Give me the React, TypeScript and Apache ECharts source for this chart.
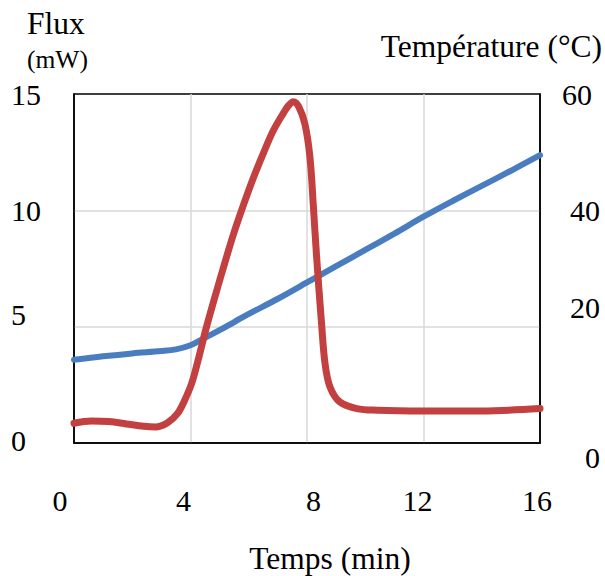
import React, { useEffect, useRef } from "react";
import * as echarts from "echarts";

// ---- data ----
const fluxTime = [0, 0.6, 1.2, 1.8, 2.4, 2.8, 3.2, 3.55, 3.8, 4.05, 4.3, 4.53, 4.9, 5.18, 5.47, 5.81, 6.16, 6.5, 6.84, 7.19, 7.35, 7.53, 7.72, 7.93, 8.1, 8.22, 8.33, 8.5, 8.62, 8.79, 9.13, 9.71, 10.4, 12, 14, 16];
const fluxValues = [0.85, 0.95, 0.92, 0.82, 0.72, 0.69, 0.86, 1.26, 1.84, 2.6, 3.75, 4.9, 6.55, 7.75, 8.95, 10.2, 11.4, 12.45, 13.42, 14.18, 14.48, 14.67, 14.45, 13.7, 12.3, 10.15, 8.0, 5.13, 3.41, 2.41, 1.76, 1.48, 1.41, 1.38, 1.38, 1.48];

const tempTime = [0, 1, 2, 3, 3.5, 4, 4.5, 5, 5.5, 6, 7, 8, 9, 10, 11, 12, 13, 14, 15, 16];
const tempValues = [14.3, 14.9, 15.4, 15.8, 16.1, 16.8, 18.1, 19.4, 20.8, 22.2, 24.8, 27.6, 30.4, 33.2, 36.0, 38.9, 41.6, 44.2, 46.8, 49.5];

const xTicks = [0, 4, 8, 12, 16];
const fluxTicks = [0, 5, 10, 15];
const tempTicks = [0, 20, 40, 60];

const xTitle = "Temps (min)";
const fluxTitle = "Flux";
const fluxUnit = "(mW)";
const tempTitle = "Température (°C)";

// ---- styles ----
const FONT = "Liberation Serif";
const FS = 30;
const TFS = 31.5;
const RED = "#C2403F";
const BLUE = "#4A7DC0";
const GRID = "#D9D9D9";

const tok = (pad: number[]) => ({ fontSize: FS, fontFamily: FONT, color: "#000", padding: pad });

const xPad: Record<number, number[]> = { 0: [0, 28, 0, 0], 4: [0, 14, 0, 0], 8: [0, 0, 0, 13], 12: [0, 12, 0, 0], 16: [0, 6, 0, 0] };
const fluxPad: Record<number, number[]> = { 0: [0, 0, 6, 0], 5: [0, 0, 24, 0], 10: [0, 0, 0, 0], 15: [0, 0, 0, 0] };
const tempPad: Record<number, number[]> = { 0: [28, 0, 0, 0], 20: [0, 0, 38, 0], 40: [0, 0, 0, 0], 60: [0, 8, 0, 0] };

const richFrom = (prefix: string, ticks: number[], pads: Record<number, number[]>) => {
  const r: Record<string, any> = {};
  ticks.forEach((t) => (r[prefix + t] = tok(pads[t] || [0, 0, 0, 0])));
  return r;
};

export default function App() {
  const ref = useRef<HTMLDivElement>(null);
  useEffect(() => {
    if (!ref.current) return;
    const chart = echarts.init(ref.current, null, { renderer: "svg" });
    const option: any = {
      animation: false,
      backgroundColor: "#fff",
      textStyle: { fontFamily: FONT },
      grid: {
        left: 74,
        top: 94,
        right: 65,
        bottom: 133,
        show: true,
        borderColor: "#000",
        borderWidth: 1.5,
        backgroundColor: "transparent",
      },
      xAxis: {
        type: "value",
        min: 0,
        max: 16,
        interval: 4,
        axisLine: { show: true, lineStyle: { color: "#000", width: 1.5 } },
        axisTick: { show: false },
        splitLine: { show: true, showMinLine: false, showMaxLine: false, lineStyle: { color: GRID, width: 1.5 } },
        axisLabel: {
          margin: 57,
          verticalAlign: "middle",
          align: "center",
          fontSize: FS,
          fontFamily: FONT,
          color: "#000",
          formatter: (v: number) => `{x${v}|${v}}`,
          rich: richFrom("x", xTicks, xPad),
        },
      },
      yAxis: [
        {
          type: "value",
          min: 0,
          max: 15,
          interval: 5,
          position: "left",
          axisLine: { show: true, lineStyle: { color: "#000", width: 1.5 } },
          axisTick: { show: false },
          splitLine: { show: true, showMinLine: false, showMaxLine: false, lineStyle: { color: GRID, width: 1.5 } },
          axisLabel: {
            margin: 63,
            align: "left",
            verticalAlign: "middle",
            fontSize: FS,
            fontFamily: FONT,
            color: "#000",
            formatter: (v: number) => `{f${v}|${v}}`,
            rich: richFrom("f", fluxTicks, fluxPad),
          },
        },
        {
          type: "value",
          min: 0,
          max: 60,
          interval: 20,
          position: "right",
          axisLine: { show: true, lineStyle: { color: "#000", width: 1.5 } },
          axisTick: { show: false },
          splitLine: { show: false },
          axisLabel: {
            margin: 60,
            align: "right",
            verticalAlign: "middle",
            fontSize: FS,
            fontFamily: FONT,
            color: "#000",
            formatter: (v: number) => `{t${v}|${v}}`,
            rich: richFrom("t", tempTicks, tempPad),
          },
        },
      ],
      series: [
        {
          name: tempTitle,
          type: "line",
          yAxisIndex: 1,
          data: tempTime.map((t, i) => [t, tempValues[i]]),
          smooth: 0.35,
          showSymbol: false,
          lineStyle: { color: BLUE, width: 6, cap: "round" },
          z: 2,
        },
        {
          name: fluxTitle,
          type: "line",
          yAxisIndex: 0,
          data: fluxTime.map((t, i) => [t, fluxValues[i]]),
          smooth: 0.35,
          showSymbol: false,
          lineStyle: { color: RED, width: 7, cap: "round" },
          z: 3,
        },
      ],
      graphic: [
        { type: "text", x: 27, y: 23, style: { text: fluxTitle, fontSize: TFS, fontFamily: FONT, fill: "#000", align: "left", verticalAlign: "middle" } },
        { type: "text", x: 27, y: 59, style: { text: fluxUnit, fontSize: 25.5, fontFamily: FONT, fill: "#000", align: "left", verticalAlign: "middle" } },
        { type: "text", x: 602, y: 46, style: { text: tempTitle, fontSize: TFS, fontFamily: FONT, fill: "#000", align: "right", verticalAlign: "middle" } },
        { type: "text", x: 330, y: 558, style: { text: xTitle, fontSize: TFS, fontFamily: FONT, fill: "#000", align: "center", verticalAlign: "middle" } },
      ],
    };
    chart.setOption(option);
    return () => chart.dispose();
  }, []);
  return <div ref={ref} style={{ position: "absolute", left: 0, top: 0, width: 605, height: 576 }} />;
}
